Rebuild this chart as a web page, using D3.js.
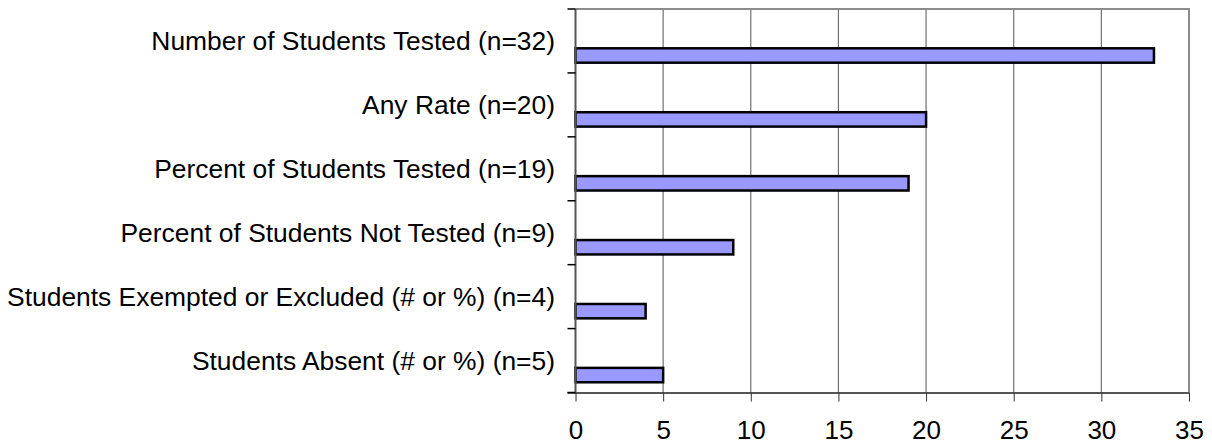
<!DOCTYPE html>
<html><head><meta charset="utf-8">
<script src="https://cdn.jsdelivr.net/npm/d3@7"></script>
<style>html,body{margin:0;padding:0;background:#fff;}svg{display:block;}</style>
</head><body>
<svg id="chart" width="1212" height="446"></svg>
<script>
const categories = [
  "Number of Students Tested (n=32)",
  "Any Rate (n=20)",
  "Percent of Students Tested (n=19)",
  "Percent of Students Not Tested (n=9)",
  "Students Exempted or Excluded (# or %) (n=4)",
  "Students Absent (# or %) (n=5)"
];
const values = [33, 20, 19, 9, 4, 5];
const xTicks = [0, 5, 10, 15, 20, 25, 30, 35];

const svg = d3.select("#chart");
const m = {left: 575.5, right: 1189, top: 9, bottom: 392.5};
const x = d3.scaleLinear().domain([0, 35]).range([m.left, m.right]);
const y = d3.scaleBand().domain(categories).range([m.top, m.bottom]).padding(0);
const bw = y.bandwidth();
const font = "'Liberation Sans', Arial, sans-serif";

// gridlines
svg.append("g").selectAll("line").data(xTicks.filter(d => d > 0 && d < 35)).join("line")
  .attr("x1", d => x(d)).attr("x2", d => x(d))
  .attr("y1", m.top).attr("y2", m.bottom)
  .attr("stroke", "#707070").attr("stroke-width", 1.2);

// plot border top and right
svg.append("path")
  .attr("d", `M${m.left},${m.top}H${m.right}V${m.bottom}`)
  .attr("fill", "none").attr("stroke", "#8c8c8c").attr("stroke-width", 2);

// bars
svg.append("g").selectAll("rect").data(values).join("rect")
  .attr("x", x(0))
  .attr("y", (d, i) => y(categories[i]) + bw * 0.615)
  .attr("width", d => x(d) - x(0))
  .attr("height", bw * 0.225)
  .attr("fill", "#9999ff")
  .attr("stroke", "#000").attr("stroke-width", 2.5);

// x axis
const xAxis = d3.axisBottom(x).tickValues(xTicks).tickSize(9).tickPadding(19).tickSizeOuter(0);
const gx = svg.append("g").attr("transform", `translate(0,${m.bottom})`).call(xAxis);
gx.select(".domain").attr("stroke", "#555").attr("stroke-width", 2)
  .attr("d", `M${m.left - 8},0.5H${m.right}`);
gx.selectAll(".tick line").attr("stroke", "#333").attr("stroke-width", 1);
gx.selectAll(".tick text").attr("font-family", font).attr("font-size", 26).attr("fill", "#000");

// y axis
const yTickPos = categories.map(c => y(c)).concat([m.bottom]);
const gy = svg.append("g");
gy.append("line").attr("x1", m.left).attr("x2", m.left).attr("y1", m.top).attr("y2", m.bottom)
  .attr("stroke", "#555").attr("stroke-width", 2);
gy.selectAll("line.tk").data(yTickPos).join("line").attr("class", "tk")
  .attr("x1", m.left - 8).attr("x2", m.left).attr("y1", d => d).attr("y2", d => d)
  .attr("stroke", "#000").attr("stroke-width", 1.5);
gy.selectAll("text").data(categories).join("text")
  .attr("x", 555)
  .attr("y", d => y(d) + bw / 2)
  .attr("dy", "0.35em")
  .attr("text-anchor", "end")
  .attr("font-family", font).attr("font-size", 26.4).attr("fill", "#000")
  .text(d => d);
</script>
</body></html>
